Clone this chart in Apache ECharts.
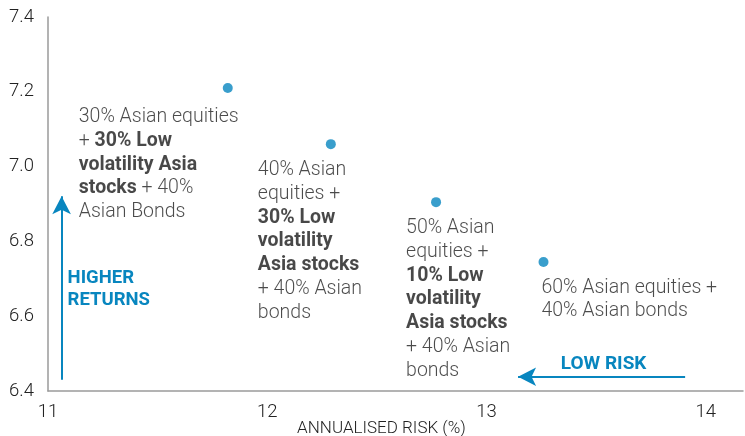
<!DOCTYPE html>
<html>
<head>
<meta charset="utf-8">
<script src="https://cdn.jsdelivr.net/npm/echarts@6/dist/echarts.min.js"></script>
<style>
html,body{margin:0;padding:0;background:#fff;}
#chart{width:745px;height:436px;}
</style>
</head>
<body>
<div id="chart"></div>
<script>
// ---- data ----
const riskValues = [11.82, 12.29, 12.77, 13.26];      // annualised risk (%)
const returnValues = [7.21, 7.06, 6.905, 6.745];      // returns
const portfolioLabels = [
  '{r|30% Asian equities}\n{r|+ }{b|30% Low}\n{b|volatility Asia}\n{b|stocks}{r| + 40%}\n{r|Asian Bonds}',
  '{r|40% Asian}\n{r|equities +}\n{b|30% Low}\n{b|volatility}\n{b|Asia stocks}\n{r|+ 40% Asian}\n{r|bonds}',
  '{r|50% Asian}\n{r|equities +}\n{b|10% Low}\n{b|volatility}\n{b|Asia stocks}\n{r|+ 40% Asian}\n{r|bonds}',
  '{r|60% Asian equities +}\n{r|40% Asian bonds}'
];
const xTicks = [11, 12, 13, 14];
const yTicks = [6.4, 6.6, 6.8, 7.0, 7.2, 7.4];
const xAxisTitle = 'ANNUALISED RISK (%)';
const returnsArrow = {x: 11.062, from: 6.43, to: 6.921, text: 'HIGHER\nRETURNS'};
const riskArrow = {y: 6.438, from: 13.906, to: 13.144, text: 'LOW RISK'};

// ---- layout (not data) ----
const labelOffsets = [[-144, 22.5], [-68, 19.5], [-25, 19.5], [3, 19]];
const BLUE = '#0886bf';
const FONT = 'Roboto, "Liberation Sans", sans-serif';

const chart = echarts.init(document.getElementById('chart'), null, {renderer: 'canvas'});

const points = riskValues.map((x, i) => ({
  value: [x, returnValues[i]],
  label: {
    show: true,
    formatter: portfolioLabels[i],
    position: labelOffsets[i],
    align: 'left',
    verticalAlign: 'top'
  }
}));

const option = {
  animation: false,
  grid: {left: 48, right: 2, top: 17, bottom: 45, containLabel: false, outerBoundsMode: 'none'},
  xAxis: {
    type: 'value',
    min: xTicks[0],
    max: 14.17,
    interval: 1,
    name: xAxisTitle,
    nameLocation: 'middle',
    nameGap: 29,
    nameMoveOverlap: false,
    nameTextStyle: {fontFamily: FONT, fontWeight: 300, fontSize: 17, color: '#222', padding: [0, 28, 0, 0]},
    axisLine: {show: true, lineStyle: {color: '#9a9a9a', width: 1.5}},
    axisTick: {show: false},
    splitLine: {show: false},
    axisLabel: {
      fontFamily: FONT, fontWeight: 300, fontSize: 18.5, color: '#222', margin: 12,
      formatter: v => (xTicks.indexOf(v) >= 0 ? String(v) : '')
    }
  },
  yAxis: {
    type: 'value',
    min: yTicks[0],
    max: yTicks[yTicks.length - 1],
    interval: 0.2,
    axisLine: {show: true, lineStyle: {color: '#9a9a9a', width: 1.5}},
    axisTick: {show: false},
    splitLine: {show: false},
    axisLabel: {
      fontFamily: FONT, fontWeight: 300, fontSize: 18.5, color: '#222', margin: 14,
      formatter: v => v.toFixed(1)
    }
  },
  series: [
    {
      type: 'scatter',
      symbol: 'circle',
      symbolSize: 10,
      itemStyle: {color: BLUE},
      label: {
        show: true,
        color: '#222',
        rich: {
          r: {fontFamily: FONT, fontWeight: 300, fontSize: 19.5, color: '#1e1e1e', lineHeight: 23.7},
          b: {fontFamily: FONT, fontWeight: 'bold', fontSize: 19.5, color: '#1a1a1a', lineHeight: 23.7}
        }
      },
      data: points,
      markLine: {
        silent: true,
        symbol: ['none', 'arrow'],
        symbolSize: [14, 18],
        lineStyle: {color: BLUE, width: 2, type: 'solid'},
        label: {show: false},
        data: [
          [{coord: [returnsArrow.x, returnsArrow.from]}, {coord: [returnsArrow.x, returnsArrow.to]}],
          [{coord: [riskArrow.from, riskArrow.y]}, {coord: [riskArrow.to, riskArrow.y]}]
        ]
      }
    }
  ]
};
chart.setOption(option);

// annotation texts positioned from data coords
const p1 = chart.convertToPixel({gridIndex: 0}, [returnsArrow.x, 6.8]);
const p2 = chart.convertToPixel({gridIndex: 0}, [(riskArrow.from + riskArrow.to) / 2, riskArrow.y]);
chart.setOption({
  graphic: [
    {
      type: 'text', left: p1[0] + 6, top: 267,
      style: {text: returnsArrow.text, fill: BLUE, font: 'bold 18.5px ' + FONT, lineHeight: 22}
    },
    {
      type: 'text', x: p2[0] + 2, y: 364,
      style: {text: riskArrow.text, fill: BLUE, font: 'bold 19px ' + FONT, align: 'center', verticalAlign: 'middle'}
    }
  ]
});
</script>
</body>
</html>
